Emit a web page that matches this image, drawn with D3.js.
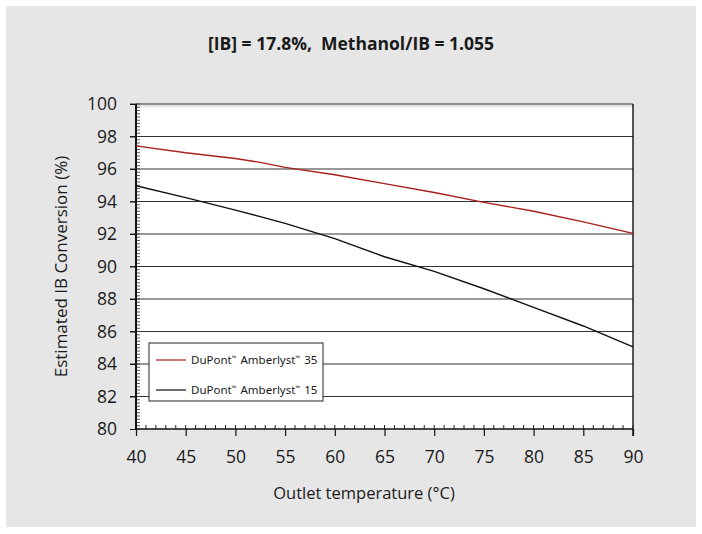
<!DOCTYPE html>
<html><head><meta charset="utf-8">
<script src="https://cdn.jsdelivr.net/npm/d3@7"></script>
<style>body{margin:0;background:#fff;} text{font-family:"Open Sans","Noto Sans",sans-serif;fill:#1a1a1a;}</style>
</head><body>
<script>
const title = "[IB] = 17.8%,  Methanol/IB = 1.055";
const temps = [40, 45, 50, 52.5, 55, 60, 65, 70, 75, 80, 85, 90];
const amberlyst35 = [97.42, 97.0, 96.65, 96.41, 96.1, 95.65, 95.1, 94.55, 93.95, 93.4, 92.75, 92.04];
const amberlyst15 = [94.97, 94.24, 93.47, 93.07, 92.65, 91.72, 90.6, 89.7, 88.63, 87.49, 86.34, 85.05];
const xTicks = [40, 45, 50, 55, 60, 65, 70, 75, 80, 85, 90];
const yTicks = [80, 82, 84, 86, 88, 90, 92, 94, 96, 98, 100];
const seriesNames = ["DuPont\u2122 Amberlyst\u2122 35", "DuPont\u2122 Amberlyst\u2122 15"];
const seriesColors = ["#a8201a", "#111111"];

const W = 702, H = 534;
const svg = d3.select("body").append("svg").attr("width", W).attr("height", H);
svg.append("rect").attr("x", 6).attr("y", 6).attr("width", 690).attr("height", 521).attr("fill", "#e6e6e6");

const m = {l: 136, r: 633, t: 104, b: 429};
const x = d3.scaleLinear().domain([40, 90]).range([m.l, m.r]);
const y = d3.scaleLinear().domain([80, 100]).range([m.b, m.t]);

svg.append("rect").attr("x", x(40)).attr("y", y(99.8)).attr("width", x(90) - x(40)).attr("height", y(80) - y(99.8)).attr("fill", "#fff");

// gridlines
svg.append("g").selectAll("line").data(yTicks.filter(d => d > 80)).join("line")
  .attr("x1", x(40) - 6).attr("x2", x(90)).attr("y1", d => y(d)).attr("y2", d => y(d))
  .attr("stroke", "#333").attr("stroke-width", 1.1);

// right border
svg.append("line").attr("x1", x(90)).attr("x2", x(90)).attr("y1", y(100)).attr("y2", y(80) + 7)
  .attr("stroke", "#111").attr("stroke-width", 1.4);

// y minor ticks
const yMinor = d3.range(80, 100.001, 0.2);
svg.append("g").selectAll("line").data(yMinor).join("line")
  .attr("x1", x(40)).attr("x2", x(40) + 4).attr("y1", d => y(d)).attr("y2", d => y(d))
  .attr("stroke", "#333").attr("stroke-width", 0.8);
// x minor ticks
const xMinor = d3.range(40, 90.001, 1);
svg.append("g").selectAll("line").data(xMinor).join("line")
  .attr("x1", d => x(d)).attr("x2", d => x(d)).attr("y1", y(80)).attr("y2", y(80) - 4)
  .attr("stroke", "#222").attr("stroke-width", 1);

const tickFont = "'Open Sans','Noto Sans',sans-serif";
// axes
const yAxis = svg.append("g").attr("transform", `translate(${x(40)},0)`)
  .call(d3.axisLeft(y).tickValues(yTicks).tickSize(6).tickPadding(13));
yAxis.select(".domain").attr("stroke", "#111").attr("stroke-width", 2).attr("d", `M0,${y(100)}V${y(80)}`);
yAxis.selectAll(".tick line").attr("stroke", "#111");
yAxis.selectAll("text").attr("font-size", 17.5).style("font-family", tickFont).attr("fill", "#1a1a1a");

const xAxis = svg.append("g").attr("transform", `translate(0,${y(80)})`)
  .call(d3.axisBottom(x).tickValues(xTicks).tickSize(7).tickPadding(15));
xAxis.select(".domain").attr("stroke", "#111").attr("stroke-width", 1.6).attr("d", `M${x(40)},0H${x(90)}`);
xAxis.selectAll(".tick line").attr("stroke", "#111").attr("stroke-width", 1.2);
xAxis.selectAll("text").attr("font-size", 17.5).style("font-family", tickFont).attr("fill", "#1a1a1a");

// lines
const line = d3.line().x((d, i) => x(temps[i])).y(d => y(d));
[amberlyst35, amberlyst15].forEach((s, k) => {
  svg.append("path").attr("d", line(s)).attr("fill", "none").attr("stroke", seriesColors[k]).attr("stroke-width", 1.4);
});

// legend
const lg = svg.append("g");
lg.append("rect").attr("x", 149).attr("y", 343).attr("width", 174).attr("height", 58)
  .attr("fill", "#fff").attr("stroke", "#222").attr("stroke-width", 1);
seriesNames.forEach((n, k) => {
  const ly = 360 + k * 30;
  lg.append("line").attr("x1", 156).attr("x2", 186).attr("y1", ly).attr("y2", ly)
    .attr("stroke", seriesColors[k]).attr("stroke-width", 1.2);
  const parts = n.split("\u2122");
  const t = lg.append("text").attr("x", 191).attr("y", ly + 4).attr("font-size", 11.5)
    .style("font-family", "'Noto Sans','Open Sans',sans-serif");
  parts.forEach((p, i) => {
    t.append("tspan").text(p).attr("font-size", 11.5);
    if (i < parts.length - 1) {
      t.append("tspan").text("\u2122").attr("font-size", 6).attr("dy", -4);
      t.append("tspan").text("\u200a").attr("dy", 4).attr("font-size", 11.5);
    }
  });
});

// titles
svg.append("text").attr("x", 351).attr("y", 50).attr("text-anchor", "middle").style("white-space", "pre")
  .attr("font-size", 17.5).attr("font-weight", "bold").text(title);
svg.append("text").attr("x", 364).attr("y", 499).attr("text-anchor", "middle")
  .attr("font-size", 16.5).text("Outlet temperature (\u00b0C)");
svg.append("text").attr("transform", `translate(67,${(y(80)+y(100))/2}) rotate(-90)`).attr("text-anchor", "middle")
  .attr("font-size", 17).text("Estimated IB Conversion (%)");
</script>
</body></html>
